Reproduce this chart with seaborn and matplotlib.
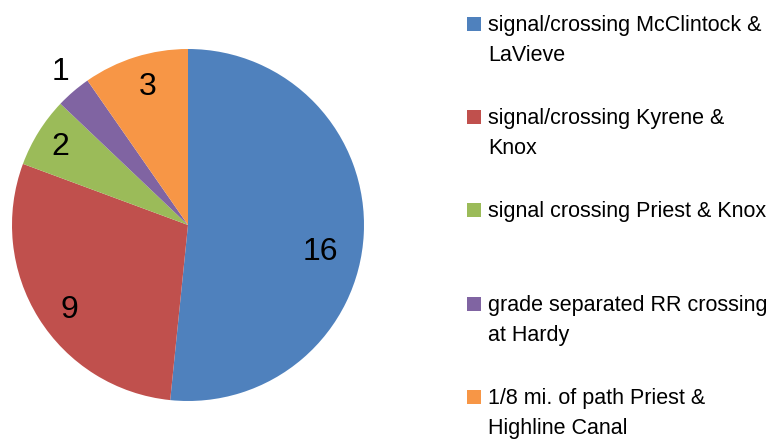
import matplotlib
matplotlib.use("Agg")
import matplotlib.pyplot as plt
import seaborn as sns
import numpy as np
from matplotlib.patches import Rectangle

sns.set_theme(style="white")
plt.rcParams['font.family'] = ['Liberation Sans', 'DejaVu Sans']

categories = [
    "signal/crossing McClintock &\nLaVieve",
    "signal/crossing Kyrene &\nKnox",
    "signal crossing Priest & Knox",
    "grade separated RR crossing\nat Hardy",
    "1/8 mi. of path Priest &\nHighline Canal",
]
values = [16, 9, 2, 1, 3]
colors = ["#4F81BD", "#C0504D", "#9BBB59", "#8064A2", "#F79646"]

W, H = 773, 440
fig = plt.figure(figsize=(W / 100, H / 100), dpi=100)
cx, cy, r = 188, 225, 176
ax = fig.add_axes([(cx - r) / W, (H - cy - r) / H, 2 * r / W, 2 * r / H])

wedges, _ = ax.pie(values, colors=colors, startangle=90, counterclock=False,
                   radius=1.0, wedgeprops=dict(linewidth=0))
ax.set_xlim(-1, 1)
ax.set_ylim(-1, 1)
ax.set_aspect('equal', adjustable='box')
ax.axis('off')

# value labels placed along the wedge mid angle
label_r = [0.765, 0.83, 0.85, 1.13, 0.82]
angle_shift = [-8.7, 3.5, 0.5, -0.9, -1.0]
for w, v, lr, da in zip(wedges, values, label_r, angle_shift):
    mid = np.deg2rad((w.theta1 + w.theta2) / 2 + da)
    ax.text(lr * np.cos(mid), lr * np.sin(mid), str(v), ha='center', va='center',
            fontsize=23, color='black')

# legend
fs = 15.5
pitch = 30
baselines = [31, 124, 217, 311, 404]
for lab, col, b in zip(categories, colors, baselines):
    fig.patches.append(Rectangle((467 / W, 1 - b / H), 14 / W, 14 / H,
                                 transform=fig.transFigure, facecolor=col,
                                 edgecolor='none'))
    last = b + pitch * lab.count("\n")
    fig.text(488 / W, 1 - last / H, lab, ha='left', va='baseline', fontsize=fs,
             linespacing=1.55, color='black')

fig.savefig("out.png", dpi=100)
